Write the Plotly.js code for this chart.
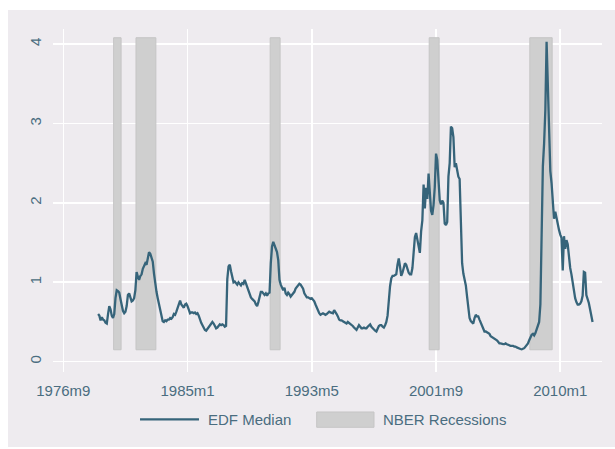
<!DOCTYPE html>
<html>
<head>
<meta charset="utf-8">
<script src="https://cdn.plot.ly/plotly-3.0.1.min.js"></script>
<style>
  html, body { margin: 0; padding: 0; background: #ffffff; width: 615px; height: 449px; overflow: hidden; }
  #chart { position: absolute; left: 8px; top: 10px; width: 607px; height: 437px; }
</style>
</head>
<body>
<div id="chart"></div>
<script>
// ---------------- data ----------------
const seriesName = "EDF Median";
const recessionName = "NBER Recessions";
const seriesStart = "1979m1";   // first monthly observation
// monthly EDF median values, 1979m1 .. 2012m3 (one row per year)
const edfMedian = [
  0.60,0.58,0.52,0.56,0.53,0.52,0.49,0.48,0.60,0.70,0.66,0.58,  // 1979
  0.55,0.60,0.80,0.90,0.89,0.87,0.79,0.70,0.64,0.61,0.63,0.70,  // 1980
  0.84,0.86,0.79,0.76,0.77,0.80,0.90,1.13,1.07,1.03,1.08,1.10,  // 1981
  1.17,1.20,1.24,1.22,1.32,1.38,1.36,1.30,1.26,1.11,0.95,0.88,  // 1982
  0.80,0.72,0.64,0.56,0.51,0.50,0.52,0.51,0.53,0.53,0.55,0.54,  // 1983
  0.56,0.60,0.59,0.63,0.68,0.71,0.77,0.72,0.70,0.68,0.72,0.73,  // 1984
  0.70,0.65,0.61,0.62,0.62,0.61,0.62,0.60,0.61,0.58,0.52,0.49,  // 1985
  0.46,0.42,0.40,0.39,0.41,0.44,0.45,0.47,0.50,0.48,0.45,0.42,  // 1986
  0.43,0.45,0.47,0.46,0.47,0.46,0.44,0.45,1.04,1.20,1.22,1.14,  // 1987
  1.08,1.00,1.01,0.98,0.97,1.00,0.98,0.96,0.99,0.98,1.03,0.98,  // 1988
  0.93,0.88,0.84,0.81,0.79,0.78,0.76,0.72,0.70,0.75,0.82,0.88,  // 1989
  0.88,0.85,0.84,0.86,0.83,0.86,0.87,1.24,1.45,1.51,1.46,1.44,  // 1990
  1.38,1.28,1.03,0.97,0.93,0.90,0.93,0.86,0.84,0.87,0.85,0.82,  // 1991
  0.84,0.86,0.88,0.92,0.94,0.96,0.98,0.97,0.95,0.92,0.86,0.83,  // 1992
  0.81,0.81,0.80,0.79,0.80,0.78,0.76,0.72,0.68,0.63,0.61,0.59,  // 1993
  0.60,0.61,0.60,0.59,0.60,0.62,0.63,0.62,0.61,0.61,0.65,0.63,  // 1994
  0.60,0.57,0.53,0.52,0.52,0.51,0.50,0.49,0.48,0.50,0.49,0.47,  // 1995
  0.46,0.45,0.43,0.41,0.40,0.43,0.46,0.44,0.42,0.42,0.43,0.42,  // 1996
  0.42,0.44,0.46,0.47,0.44,0.42,0.40,0.39,0.38,0.43,0.45,0.46,  // 1997
  0.46,0.44,0.43,0.46,0.50,0.58,0.80,0.95,1.05,1.08,1.08,1.09,  // 1998
  1.10,1.22,1.30,1.20,1.08,1.12,1.18,1.24,1.22,1.16,1.12,1.10,  // 1999
  1.10,1.18,1.40,1.57,1.62,1.52,1.45,1.37,1.64,1.78,2.23,1.93,  // 2000
  2.19,2.05,2.37,2.07,1.90,1.85,1.97,2.20,2.62,2.54,2.25,2.03,  // 2001
  1.98,2.03,2.00,1.74,1.72,1.76,2.33,2.50,2.96,2.94,2.83,2.45,  // 2002
  2.50,2.39,2.33,2.30,1.78,1.24,1.11,1.03,0.96,0.82,0.69,0.55,  // 2003
  0.51,0.50,0.48,0.55,0.59,0.57,0.57,0.53,0.49,0.44,0.40,0.38,  // 2004
  0.38,0.37,0.37,0.35,0.32,0.31,0.30,0.30,0.29,0.27,0.25,0.23,  // 2005
  0.23,0.22,0.22,0.22,0.23,0.22,0.21,0.21,0.20,0.20,0.20,0.19,  // 2006
  0.19,0.18,0.17,0.17,0.16,0.155,0.16,0.17,0.19,0.21,0.23,0.27, // 2007
  0.31,0.34,0.35,0.33,0.36,0.40,0.45,0.50,0.72,1.45,2.46,2.75,  // 2008
  3.17,4.03,3.40,2.75,2.40,2.25,1.95,1.80,1.89,1.80,1.70,1.66,  // 2009
  1.60,1.56,1.15,1.58,1.42,1.53,1.48,1.32,1.18,1.10,1.00,0.88,  // 2010
  0.80,0.75,0.72,0.72,0.73,0.76,0.83,1.13,1.12,0.84,0.80,0.74,  // 2011
  0.66,0.56,0.50                                                // 2012
];
// NBER recessions (first and last recession month)
const recessionFirst = ["1980m2", "1981m8", "1990m8", "2001m4", "2008m1"];
const recessionLast  = ["1980m7", "1982m11", "1991m3", "2001m11", "2009m6"];
const recessionLow  = 0.15;   // shaded band bottom
const recessionHigh = 4.08;   // shaded band top
// axis ticks
const xTickLabels = ["1976m9", "1985m1", "1993m5", "2001m9", "2010m1"];
const yTickValues = [0, 1, 2, 3, 4];

// ---------------- helpers ----------------
function tm(s) { const p = s.split("m"); return (Number(p[0]) - 1960) * 12 + (Number(p[1]) - 1); }

const start = tm(seriesStart);
const xMonths = edfMedian.map((_, i) => start + i);

const recX = [], recW = [], recBase = [], recH = [];
for (let i = 0; i < recessionFirst.length; i++) {
  const a = tm(recessionFirst[i]) - 0.5, b = tm(recessionLast[i]) + 0.5;
  recX.push((a + b) / 2); recW.push(b - a);
  recBase.push(recessionLow); recH.push(recessionHigh - recessionLow);
}

// ---------------- styling ----------------
const bg = "#eeebef";
const lineCol = "#36647a";
const textCol = "#4a6d80";
const barFill = "#cfcfcf";
const barEdge = "#c5c5c5";
const font = { family: "Liberation Sans, Arial, Helvetica, sans-serif", size: 15, color: textCol };

const traces = [
  {
    type: "bar", name: recessionName, x: recX, y: recH, base: recBase, width: recW,
    marker: { color: barFill, line: { color: barEdge, width: 1 } },
    showlegend: false, hoverinfo: "skip"
  },
  {
    type: "scatter", mode: "lines", name: seriesName, x: xMonths, y: edfMedian,
    line: { color: lineCol, width: 2.3 }, showlegend: false
  }
];

// legend drawn manually (paper coordinates)
const legY = -0.138;
const layout = {
  width: 607, height: 437,
  paper_bgcolor: bg, plot_bgcolor: bg,
  margin: { l: 45, r: 13, t: 19, b: 75, pad: 0 },
  font: font,
  showlegend: false,
  bargap: 0,
  xaxis: {
    range: [191.7, 633.6],
    tickmode: "array", tickvals: xTickLabels.map(tm), ticktext: xTickLabels,
    showgrid: true, gridcolor: "#ffffff", gridwidth: 1.6,
    zeroline: false, showline: false, ticks: "",
    tickfont: font, ticklabelstandoff: 8
  },
  yaxis: {
    range: [-0.13, 4.19],
    tickmode: "array", tickvals: yTickValues,
    showgrid: true, gridcolor: "#ffffff", gridwidth: 1.6,
    zeroline: false, showline: false, ticks: "",
    tickangle: -90, tickfont: font, ticklabelstandoff: 8
  },
  shapes: [
    { type: "line", xref: "paper", yref: "paper", x0: 0.1585, x1: 0.2659, y0: legY, y1: legY,
      line: { color: lineCol, width: 2.3 } },
    { type: "rect", xref: "paper", yref: "paper", x0: 0.4803, x1: 0.5847, y0: -0.1612, y1: -0.1166,
      fillcolor: barFill, line: { color: barEdge, width: 1 } }
  ],
  annotations: [
    { xref: "paper", yref: "paper", x: 0.278, y: legY, xanchor: "left", yanchor: "middle",
      text: seriesName, showarrow: false, font: font },
    { xref: "paper", yref: "paper", x: 0.598, y: legY, xanchor: "left", yanchor: "middle",
      text: recessionName, showarrow: false, font: font }
  ]
};

Plotly.newPlot("chart", traces, layout, { displayModeBar: false, staticPlot: true });
</script>
</body>
</html>
